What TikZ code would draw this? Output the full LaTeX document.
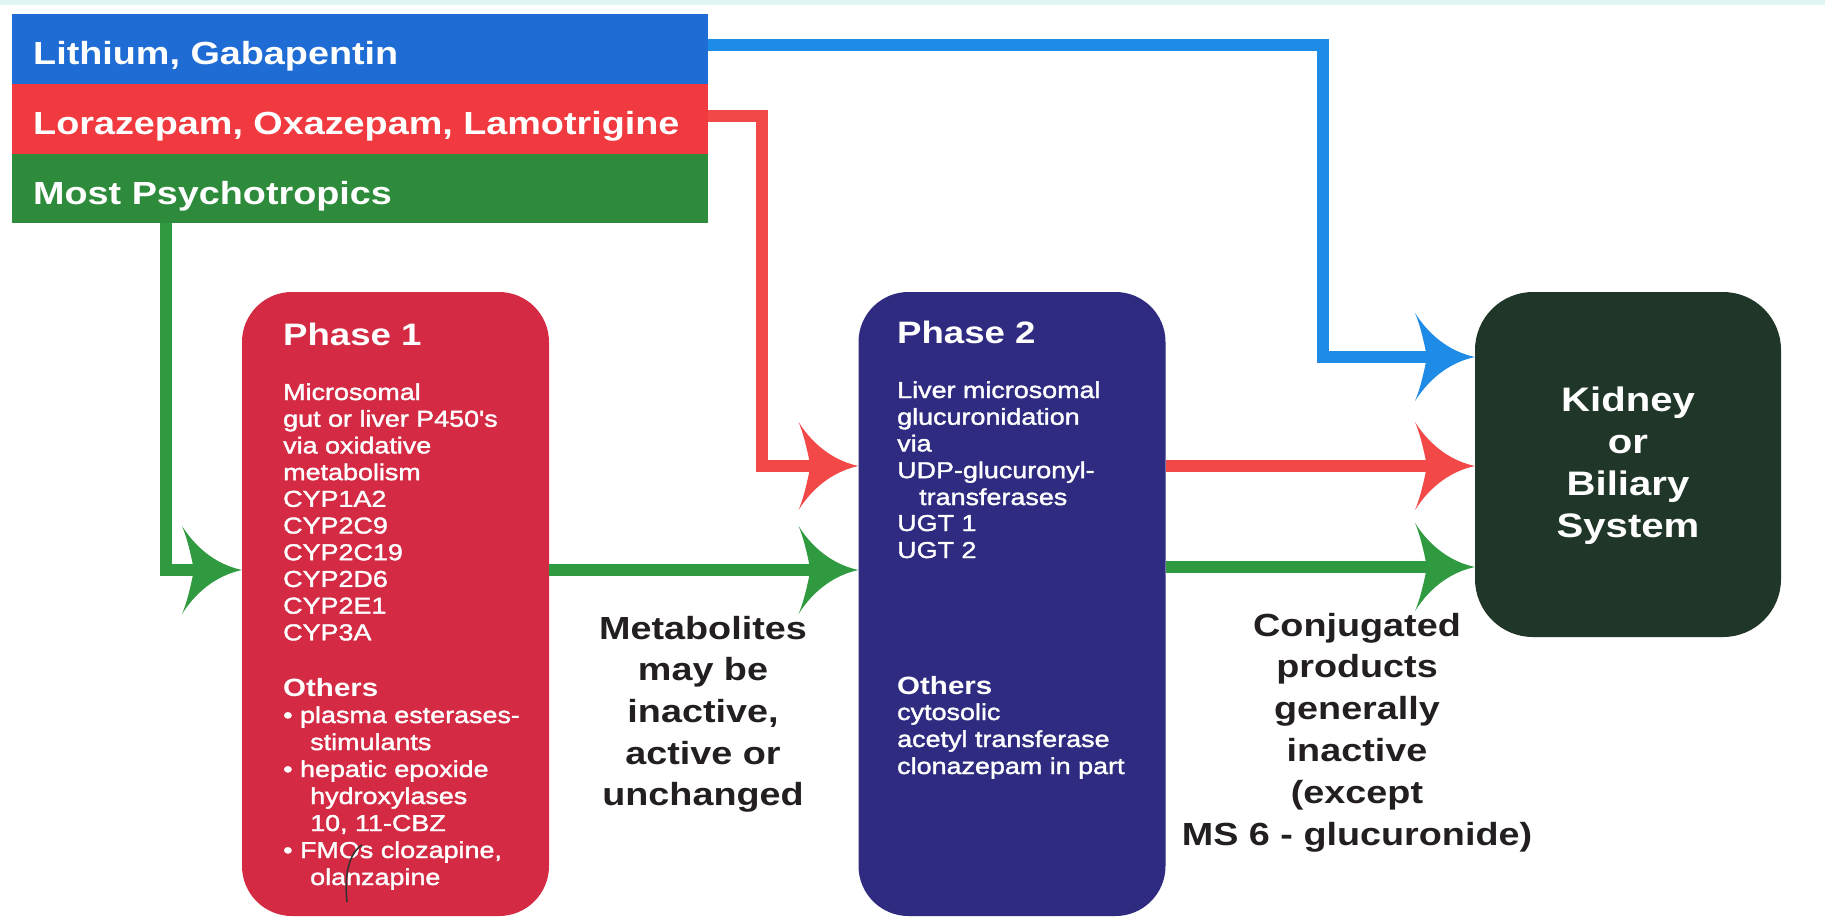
\documentclass[tikz,border=0pt]{standalone}
\usepackage{fontspec}
\setmainfont{Liberation Sans}[FakeStretch=1.18]
\newfontfamily\bodyfont{Liberation Sans}[FakeStretch=1.17,FakeBold=1.6]
\usetikzlibrary{arrows.meta}

\definecolor{barblue}{HTML}{1E6CD4}
\definecolor{barred}{HTML}{F03A40}
\definecolor{bargreen}{HTML}{2E8B3C}
\definecolor{lineblue}{HTML}{1E8BE6}
\definecolor{linered}{HTML}{F24848}
\definecolor{linegreen}{HTML}{2F9A3F}
\definecolor{phaseone}{HTML}{D42A44}
\definecolor{phasetwo}{HTML}{2E2B80}
\definecolor{kidneyc}{HTML}{1F3629}
\definecolor{labelc}{HTML}{231F20}
\definecolor{stripc}{HTML}{DFF6F2}

\pgfdeclarearrow{
  name = Horn,
  parameters = {\the\pgfarrowlength,\the\pgfarrowwidth},
  setup code = {
    \pgfarrowssettipend{0pt}
    \pgfarrowssetlineend{-0.78\pgfarrowlength}
    \pgfarrowshullpoint{0pt}{0pt}
    \pgfarrowshullpoint{-\pgfarrowlength}{0.5\pgfarrowwidth}
    \pgfarrowshullpoint{-\pgfarrowlength}{-0.5\pgfarrowwidth}
    \pgfarrowssavethe\pgfarrowlength
    \pgfarrowssavethe\pgfarrowwidth
  },
  drawing code = {
    \pgfpathmoveto{\pgfqpoint{0pt}{0pt}}
    \pgfpathcurveto{\pgfqpoint{-0.35\pgfarrowlength}{0.05\pgfarrowwidth}}{\pgfqpoint{-0.72\pgfarrowlength}{0.2\pgfarrowwidth}}{\pgfqpoint{-\pgfarrowlength}{0.5\pgfarrowwidth}}
    \pgfpathcurveto{\pgfqpoint{-0.9\pgfarrowlength}{0.34\pgfarrowwidth}}{\pgfqpoint{-0.84\pgfarrowlength}{0.13\pgfarrowwidth}}{\pgfqpoint{-0.8\pgfarrowlength}{0pt}}
    \pgfpathcurveto{\pgfqpoint{-0.84\pgfarrowlength}{-0.13\pgfarrowwidth}}{\pgfqpoint{-0.9\pgfarrowlength}{-0.34\pgfarrowwidth}}{\pgfqpoint{-\pgfarrowlength}{-0.5\pgfarrowwidth}}
    \pgfpathcurveto{\pgfqpoint{-0.72\pgfarrowlength}{-0.2\pgfarrowwidth}}{\pgfqpoint{-0.35\pgfarrowlength}{-0.05\pgfarrowwidth}}{\pgfqpoint{0pt}{0pt}}
    \pgfpathclose
    \pgfusepathqfill
  },
  defaults = {length=60pt, width=88pt}
}

\tikzset{
  bar/.style={minimum width=696pt, minimum height=70pt, inner sep=0pt, outer sep=0pt, draw=none},
  bartext/.style={anchor=base west, inner sep=0pt, text=white, font=\fontsize{32}{36}\selectfont\bfseries},
  phasebox/.style={rounded corners=50pt, minimum width=307pt, minimum height=624pt, inner sep=0pt, outer sep=0pt, draw=none},
  kidbox/.style={rounded corners=58pt, minimum width=306pt, minimum height=345pt, inner sep=0pt, outer sep=0pt, draw=none},
  ptitle/.style={anchor=base west, inner sep=0pt, text=white, font=\fontsize{31}{36}\selectfont\bfseries},
  pbody/.style={anchor=base west, inner sep=0pt, text=white, font=\bodyfont\fontsize{23}{27}\selectfont},
  pother/.style={anchor=base west, inner sep=0pt, text=white, font=\fontsize{25}{30}\selectfont\bfseries},
  lbl/.style={anchor=base, inner sep=0pt, text=labelc, font=\fontsize{32}{40}\selectfont\bfseries},
  ktext/.style={anchor=base, inner sep=0pt, text=white, font=\fontsize{34}{40}\selectfont\bfseries},
  conn/.style={line width=12pt, -Horn},
}

\begin{document}
\begin{tikzpicture}[x=1pt, y=-1pt]
\useasboundingbox (0,0) rectangle (1825,922);
\fill[white] (0,0) rectangle (1825,922);
\fill[stripc] (0,0) rectangle (1825,5);

% top bars
\node[bar, fill=barblue] (lith) at (360,49) {};
\node[bar, fill=barred] (lor) at (360,119) {};
\node[bar, fill=bargreen, minimum height=69pt] (most) at (360,188.5) {};
\node[bartext] (lithT) at (33,64) {Lithium, Gabapentin};
\node[bartext] (lorT) at (33,134) {Lorazepam, Oxazepam, Lamotrigine};
\node[bartext] (mostT) at (33,204) {Most Psychotropics};

% boxes
\node[phasebox, fill=phaseone] (p1) at (395.5,604) {};
\node[phasebox, fill=phasetwo] (p2) at (1012,604) {};
\node[kidbox, fill=kidneyc] (kid) at (1628,464.5) {};

% connectors
\draw[conn, lineblue] ([yshift=4pt]lith.east) -- ++(615,0) |- ([yshift=107.5pt]kid.west);
\draw[conn, linered] ([yshift=3pt]lor.east) -- ++(54,0) |- ([yshift=138pt]p2.west);
\draw[conn, linegreen] ([xshift=-194pt]most.south) |- ([yshift=34pt]p1.west);
\draw[conn, linegreen] ([yshift=34pt]p1.east) -- ([yshift=34pt]p2.west);
\draw[conn, linered] ([yshift=138pt]p2.east) -- ([yshift=-1.5pt]kid.west);
\draw[conn, linegreen] ([yshift=37pt]p2.east) -- ([yshift=-102.5pt]kid.west);

% Phase 1 text
\node[ptitle] (p1t) at (283,345) {Phase 1};
\foreach \t [count=\i from 0] in {Microsomal, {gut or liver P450's}, {via oxidative}, metabolism, CYP1A2, CYP2C9, CYP2C19, CYP2D6, CYP2E1, CYP3A}
  \node[pbody] (p1l\i) at (283, {400+26.7*\i}) {\t};
\node[pother] (p1o) at (283,696) {Others};
\node[pbody] (p1b1) at (283,723) {• plasma esterases-};
\node[pbody] (p1b1c) at (310,750) {stimulants};
\node[pbody] (p1b2) at (283,777) {• hepatic epoxide};
\node[pbody] (p1b2c) at (310,804) {hydroxylases};
\node[pbody] (p1b2d) at (310,831) {10, 11-CBZ};
\node[pbody] (p1b3) at (283,858) {• FMOs clozapine,};
\node[pbody] (p1b3c) at (310,885) {olanzapine};
\draw[line width=1.6pt, black!80] (362,845) .. controls (349,853) and (344,875) .. (347,902);

% Phase 2 text
\node[ptitle] (p2t) at (897,343) {Phase 2};
\foreach \t [count=\i from 0] in {Liver microsomal, glucuronidation, via, UDP-glucuronyl-}
  \node[pbody] (p2l\i) at (897, {398+26.7*\i}) {\t};
\node[pbody] (p2l4) at (919,505) {transferases};
\node[pbody] (p2l5) at (897,531) {UGT 1};
\node[pbody] (p2l6) at (897,558) {UGT 2};
\node[pother] (p2o) at (897,694) {Others};
\node[pbody] (p2c1) at (897,720) {cytosolic};
\node[pbody] (p2c2) at (897,747) {acetyl transferase};
\node[pbody] (p2c3) at (897,774) {clonazepam in part};

% Kidney text
\node[ktext] (k1) at (1628,411) {Kidney};
\node[ktext] (k2) at (1628,453) {or};
\node[ktext] (k3) at (1628,495) {Biliary};
\node[ktext] (k4) at (1628,537) {System};

% labels
\foreach \t [count=\i from 0] in {Metabolites, {may be}, {inactive,}, {active or}, unchanged}
  \node[lbl] (m\i) at (703, {639+41.7*\i}) {\t};
\foreach \t [count=\i from 0] in {Conjugated, products, generally, inactive, {(except}, {MS 6 - glucuronide)}}
  \node[lbl] (c\i) at (1357, {636+41.8*\i}) {\t};
\end{tikzpicture}
\end{document}
